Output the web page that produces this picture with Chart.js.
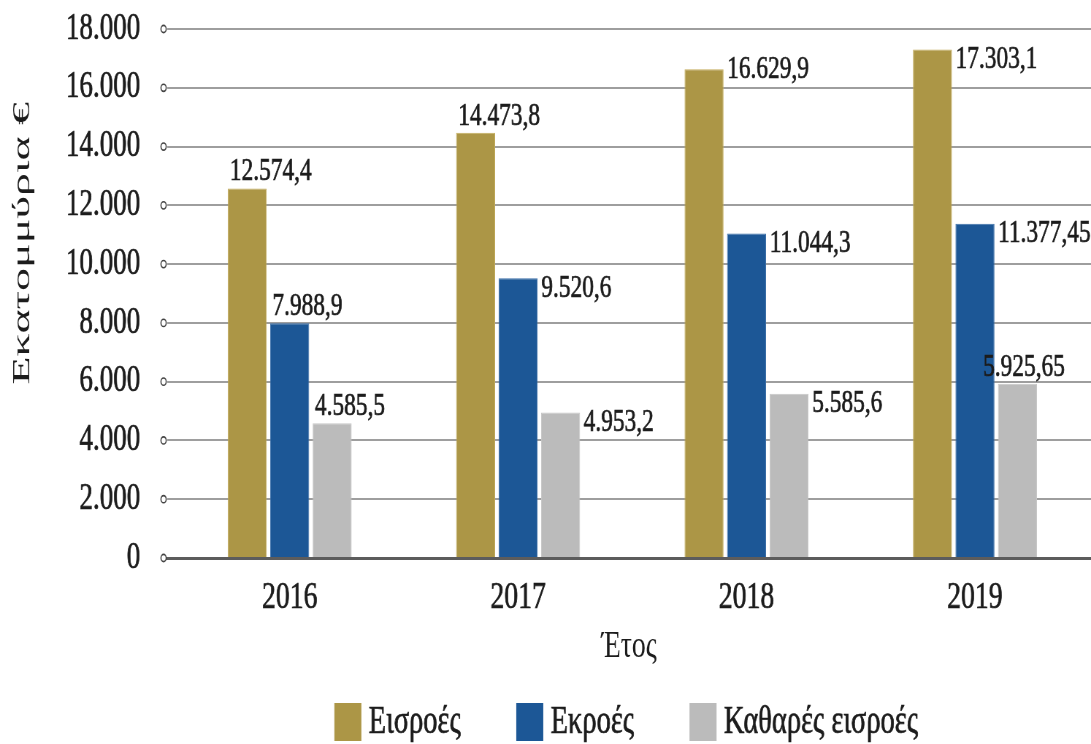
<!DOCTYPE html>
<html lang="el">
<head>
<meta charset="utf-8">
<title>Εισροές και εκροές ανά έτος</title>
<script src="https://cdn.jsdelivr.net/npm/chart.js@4.4.1/dist/chart.umd.min.js"></script>
<style>
  html, body { margin: 0; padding: 0; background: #fff; overflow: hidden; }
  /* the chart is laid out wide and squeezed sideways, which gives the narrow serif look */
  #wrap { width: 1494px; height: 744px; transform: scaleX(0.73025); transform-origin: 0 0; }
</style>
</head>
<body>
<div id="wrap"><canvas id="flows" width="1494" height="744"></canvas></div>
<script>
const years = ['2016', '2017', '2018', '2019'];
const inflows = [12574.4, 14473.8, 16629.9, 17303.1];
const outflows = [7988.9, 9520.6, 11044.3, 11377.45];
const netInflows = [4585.5, 4953.2, 5585.6, 5925.65];
const seriesNames = ['Εισροές', 'Εκροές', 'Καθαρές εισροές'];
const yTicks = [0, 2000, 4000, 6000, 8000, 10000, 12000, 14000, 16000, 18000];

const colors = ['#ac9646', '#1c5796', '#bbbbbb'];
const edges = ['#c4ad5c', '#3b6fa8', '#c6c6c6'];
// where each value label goes: over the bar or beside its top on the right
const labelSpots = [
  ['above', 'above', 'rightTop', 'right'],
  ['above', 'right', 'right', 'right'],
  ['above', 'right', 'right', 'overCenter']
];
const serif = '"Liberation Serif", "Times New Roman", serif';
const ink = '#1c1c1c';
const heft = 0.7; // thin outline so the serif reads a little heavier

// 12574.4 -> "12.574,4"
function grNumber(v) {
  const [whole, dec] = String(v).split('.');
  const grouped = whole.replace(/\B(?=(\d{3})+(?!\d))/g, '.');
  return dec ? grouped + ',' + dec : grouped;
}

function points(values) {
  return values.map((v, i) => ({ x: i, y: v }));
}

function inkText(ctx, text, x, y) {
  ctx.fillText(text, x, y);
  ctx.strokeText(text, x, y);
}

// small hollow rings in front of each gridline
const tickRings = {
  id: 'tickRings',
  afterDraw(chart) {
    const { ctx, chartArea, scales } = chart;
    ctx.save();
    ctx.strokeStyle = '#444';
    ctx.fillStyle = '#fff';
    ctx.lineWidth = 1.6;
    yTicks.forEach(v => {
      const py = scales.y.getPixelForValue(v);
      ctx.beginPath();
      ctx.arc(chartArea.left - 5, py, 3.6, 0, Math.PI * 2);
      ctx.fill();
      ctx.stroke();
    });
    ctx.restore();
  }
};

const valueLabels = {
  id: 'valueLabels',
  afterDatasetsDraw(chart) {
    const ctx = chart.ctx;
    ctx.save();
    ctx.font = `32px ${serif}`;
    ctx.fillStyle = ink;
    ctx.strokeStyle = ink;
    ctx.lineWidth = heft;
    chart.data.datasets.forEach((ds, di) => {
      chart.getDatasetMeta(di).data.forEach((bar, i) => {
        const text = grNumber(ds.data[i].y);
        const left = bar.x - bar.width / 2;
        const right = bar.x + bar.width / 2;
        const spot = labelSpots[di][i];
        if (spot === 'right' || spot === 'rightTop') {
          ctx.textAlign = 'left';
          ctx.textBaseline = 'middle';
          inkText(ctx, text, right + 5, bar.y + (spot === 'right' ? 10 : 0));
        } else {
          ctx.textAlign = spot === 'above' ? 'left' : 'center';
          ctx.textBaseline = 'alphabetic';
          inkText(ctx, text, spot === 'above' ? left + 3 : bar.x + 9, bar.y - 8);
        }
      });
    });
    ctx.restore();
  }
};

// y title and the legend row under the axis
const frameText = {
  id: 'frameText',
  afterDraw(chart) {
    const { ctx, chartArea } = chart;
    ctx.save();
    ctx.fillStyle = ink;
    ctx.font = `46px ${serif}`;
    ctx.textAlign = 'center';
    ctx.textBaseline = 'middle';
    ctx.translate(31, chartArea.top + chartArea.height * 0.405);
    ctx.rotate(-Math.PI / 2);
    ctx.scale(1, 0.72);
    ctx.fillText('Εκατομμύρια €', 0, 0);
    ctx.restore();

    ctx.save();
    ctx.font = `39px ${serif}`;
    ctx.strokeStyle = ink;
    ctx.lineWidth = heft;
    const boxW = 37, boxH = 38, gap = 10, space = 76;
    const widths = seriesNames.map(n => boxW + gap + ctx.measureText(n).width);
    const total = widths.reduce((a, b) => a + b, 0) + space * (widths.length - 1);
    let x = (chartArea.left + chartArea.right) / 2 - 4 - total / 2;
    const top = chart.height - 41;
    seriesNames.forEach((name, i) => {
      ctx.fillStyle = colors[i];
      ctx.fillRect(x, top, boxW, boxH);
      ctx.fillStyle = ink;
      ctx.textAlign = 'left';
      ctx.textBaseline = 'middle';
      inkText(ctx, name, x + boxW + gap, top + boxH / 2 + 1);
      x += widths[i] + space;
    });
    ctx.restore();
  }
};

const series = [inflows, outflows, netInflows];

new Chart(document.getElementById('flows'), {
  type: 'bar',
  data: {
    datasets: series.map((values, i) => ({
      label: seriesNames[i],
      data: points(values),
      backgroundColor: colors[i],
      borderColor: edges[i],
      borderWidth: 1,
      categoryPercentage: 0.558,
      barPercentage: 0.918
    }))
  },
  options: {
    responsive: false,
    animation: false,
    devicePixelRatio: 1,
    layout: { padding: { top: 29, bottom: 50, left: 0, right: 0 } },
    plugins: {
      legend: { display: false },
      tooltip: { enabled: false }
    },
    scales: {
      x: {
        type: 'linear',
        offset: false,
        min: -0.536,
        max: 3.508,
        afterBuildTicks: scale => { scale.ticks = years.map((y, i) => ({ value: i })); },
        afterFit: scale => { scale.height = 136; },
        ticks: {
          callback: value => years[value],
          font: { family: serif, size: 38 },
          color: ink,
          textStrokeColor: ink,
          textStrokeWidth: heft,
          padding: 17
        },
        grid: { display: false, drawTicks: false },
        border: { color: '#5c5c5c', width: 3 },
        title: {
          display: true,
          text: 'Έτος',
          font: { family: serif, size: 38 },
          color: ink,
          padding: { top: 0, bottom: 24 }
        }
      },
      y: {
        min: 0,
        max: 18000,
        afterBuildTicks: scale => { scale.ticks = yTicks.map(v => ({ value: v })); },
        afterFit: scale => { scale.width = 229; },
        ticks: {
          callback: value => grNumber(value),
          font: { family: serif, size: 37 },
          color: ink,
          textStrokeColor: ink,
          textStrokeWidth: heft,
          padding: 4
        },
        grid: {
          color: c => (c.tick && c.tick.value === 0 ? 'rgba(0,0,0,0)' : '#9e9e9e'),
          lineWidth: 2,
          drawTicks: true,
          tickLength: 33,
          tickColor: 'rgba(0,0,0,0)'
        },
        border: { display: false }
      }
    }
  },
  plugins: [tickRings, valueLabels, frameText]
});
</script>
</body>
</html>
